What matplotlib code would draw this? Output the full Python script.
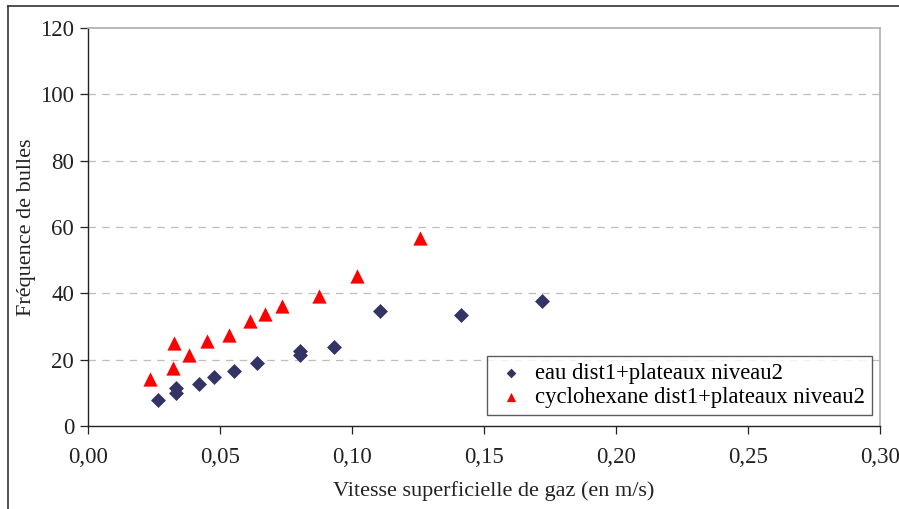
import matplotlib
matplotlib.use("Agg")
import matplotlib.pyplot as plt
from matplotlib.lines import Line2D

plt.rcParams['font.family'] = ['Liberation Serif', 'DejaVu Serif']

eau_x = [0.0264, 0.0333, 0.0333, 0.0419, 0.0476, 0.0552, 0.0640, 0.0803, 0.0803,
         0.0931, 0.1107, 0.1413, 0.1718]
eau_y = [7.8, 11.4, 9.9, 12.7, 14.8, 16.5, 19.1, 22.7, 21.4,
         23.8, 34.6, 33.4, 37.8]
cyc_x = [0.0235, 0.0321, 0.0326, 0.0384, 0.0452, 0.0534, 0.0612, 0.0669, 0.0736,
         0.0876, 0.1019, 0.1258]
cyc_y = [14.1, 17.6, 24.9, 21.5, 25.7, 27.5, 31.6, 33.7, 36.1,
         39.1, 45.2, 56.6]
x_ticks = [0.00, 0.05, 0.10, 0.15, 0.20, 0.25, 0.30]
x_labels = ["0,00", "0,05", "0,10", "0,15", "0,20", "0,25", "0,30"]
y_ticks = [0, 20, 40, 60, 80, 100, 120]
lab_eau = "eau dist1+plateaux niveau2"
lab_cyc = "cyclohexane dist1+plateaux niveau2"

W, H = 899, 509
fig = plt.figure(figsize=(W / 100, H / 100), dpi=100)
ax = fig.add_axes([88 / W, 1 - 426 / H, (880 - 88) / W, (426 - 28) / H])

# outer chart border (top and left visible)
fig.add_artist(Line2D([8 / W, 1.0], [1 - 6 / H, 1 - 6 / H], color='#333333', lw=1.2,
                      transform=fig.transFigure))
fig.add_artist(Line2D([8 / W, 8 / W], [0, 1 - 6 / H], color='#333333', lw=1.2,
                      transform=fig.transFigure))

navy = '#333366'
red = '#ff0000'
ax.scatter(eau_x, eau_y, marker='D', s=58, color=navy, zorder=3, label=lab_eau, linewidths=0)
ax.scatter(cyc_x, cyc_y, marker='^', s=105, color=red, zorder=3, label=lab_cyc, linewidths=0)

ax.set_xlim(0, 0.30)
ax.set_ylim(0, 120)
ax.set_xticks(x_ticks)
ax.set_xticklabels(x_labels)
ax.set_yticks(y_ticks)

for yv in y_ticks[1:-1]:
    ax.axhline(yv, color='#c4bcbc', lw=0.9, ls=(0, (6, 5)), zorder=1)

for s in ['top', 'right']:
    ax.spines[s].set_color('#b4acac')
    ax.spines[s].set_linewidth(1.2)
for s in ['left', 'bottom']:
    ax.spines[s].set_color('#222222')
    ax.spines[s].set_linewidth(1.0)

ax.tick_params(axis='both', direction='out', length=6, width=0.9, colors='#222222',
               labelsize=16.5, labelcolor='#222222')
ax.tick_params(axis='x', pad=9)
ax.tick_params(axis='y', pad=4)

ax.set_xlabel("Vitesse superficielle de gaz (en m/s)", fontsize=16, color='#222222', va='center')
ax.xaxis.set_label_coords((494 - 88) / 792, -(491 - 426) / 398)
ax.set_ylabel("Fréquence de bulles", fontsize=16, color='#222222', va='center')
ax.yaxis.set_label_coords(-(88 - 27) / 792, 0.5)

leg = ax.legend(loc='lower right', bbox_to_anchor=(872 / W, 1 - 415 / H), bbox_transform=fig.transFigure,
                fontsize=16.3, frameon=True, fancybox=False, edgecolor='#333333',
                handlelength=1.5, handletextpad=0.32, borderpad=0.3, labelspacing=0.15,
                markerscale=0.65, borderaxespad=0)
leg.get_frame().set_linewidth(1.0)

fig.savefig("out.png", dpi=100)
